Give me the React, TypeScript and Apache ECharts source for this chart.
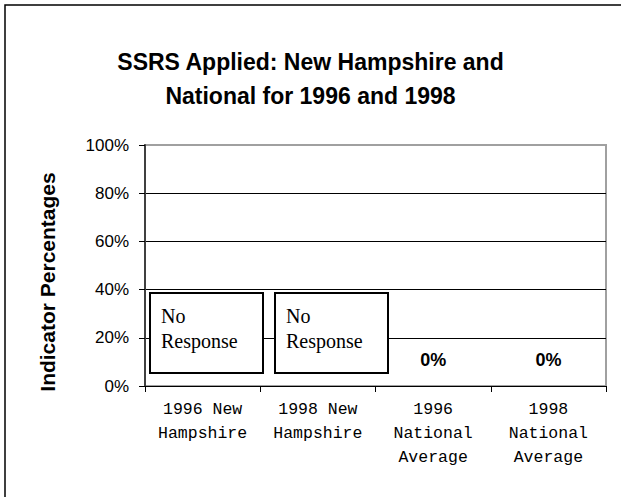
import React, { useEffect, useRef } from "react";
import * as echarts from "echarts";

const titleLines = ["SSRS Applied: New Hampshire and", "National for 1996 and 1998"];
const categories = ["1996 New\nHampshire", "1998 New\nHampshire", "1996\nNational\nAverage", "1998\nNational\nAverage"];
const values: (number | null)[] = [null, null, 0, 0];
const yTicks = [0, 0.2, 0.4, 0.6, 0.8, 1.0];
const yAxisTitle = "Indicator Percentages";
const noResponseText = "No\nResponse";

export default function App() {
  const ref = useRef<HTMLDivElement>(null);
  useEffect(() => {
    if (!ref.current) return;
    const chart = echarts.init(ref.current, undefined, { renderer: "svg" });
    const sans = "'Liberation Sans', Arial, sans-serif";
    const boxes = [
      { x: 150, y: 293 },
      { x: 275, y: 293 },
    ];
    chart.setOption({
      animation: false,
      backgroundColor: "#ffffff",
      grid: {
        left: 145,
        top: 145,
        width: 461,
        height: 241,
        show: true,
        borderColor: "#a0a0a0",
        borderWidth: 2,
        backgroundColor: "transparent",
      },
      xAxis: {
        type: "category",
        data: categories,
        boundaryGap: true,
        axisLine: { show: true, lineStyle: { color: "#000", width: 1 } },
        axisTick: { show: true, length: 6, alignWithLabel: false, lineStyle: { color: "#000" } },
        axisLabel: {
          interval: 0,
          fontFamily: "'Liberation Mono', 'Courier New', monospace",
          fontSize: 16.5,
          lineHeight: 24,
          color: "#000",
          margin: 11,
        },
        splitLine: { show: false },
      },
      yAxis: {
        type: "value",
        min: yTicks[0],
        max: yTicks[yTicks.length - 1],
        interval: 0.2,
        axisLine: { show: true, lineStyle: { color: "#404040", width: 2 } },
        axisTick: { show: true, length: 6, lineStyle: { color: "#000" } },
        axisLabel: {
          fontFamily: sans,
          fontSize: 17,
          color: "#000",
          margin: 16,
          formatter: (v: number) => Math.round(v * 100) + "%",
        },
        splitLine: {
          show: true,
          lineStyle: { color: ["#000", "#000", "#000", "#000", "#000", "#a0a0a0"], width: 1 },
        },
      },
      series: [
        {
          type: "bar",
          data: values,
          barWidth: "60%",
          itemStyle: { color: "#000" },
          label: {
            show: true,
            position: "top",
            distance: 17,
            fontFamily: sans,
            fontSize: 18,
            fontWeight: "bold",
            color: "#000",
            formatter: (p: any) => Math.round(p.value * 100) + "%",
          },
        },
      ],
      graphic: [
        {
          type: "rect",
          shape: { x: 5, y: 5, width: 700, height: 600 },
          style: { fill: "none", stroke: "#000", lineWidth: 1.5 },
          silent: true,
        },
        {
          type: "text",
          x: 310.5,
          y: 45,
          style: {
            text: titleLines.join("\n"),
            font: "bold 23px " + sans,
            fill: "#000",
            lineHeight: 34,
            align: "center",
            verticalAlign: "top",
          },
        },
        {
          type: "text",
          x: 47,
          y: 282,
          rotation: Math.PI / 2,
          style: {
            text: yAxisTitle,
            font: "bold 21px " + sans,
            fill: "#000",
            align: "center",
            verticalAlign: "middle",
          },
        },
        ...boxes.flatMap((b) => [
          {
            type: "rect",
            shape: { x: b.x, y: b.y, width: 113, height: 80 },
            style: { fill: "#fff", stroke: "#000", lineWidth: 2 },
            z: 100,
          },
          {
            type: "text",
            x: b.x + 11,
            y: b.y + 10,
            z: 101,
            style: {
              text: noResponseText,
              font: "20px 'Liberation Serif', 'Times New Roman', serif",
              fill: "#000",
              lineHeight: 25,
            },
          },
        ]),
      ],
    });
    return () => chart.dispose();
  }, []);
  return (
    <div
      ref={ref}
      style={{ position: "fixed", left: 0, top: 0, width: 621, height: 497 }}
    />
  );
}
